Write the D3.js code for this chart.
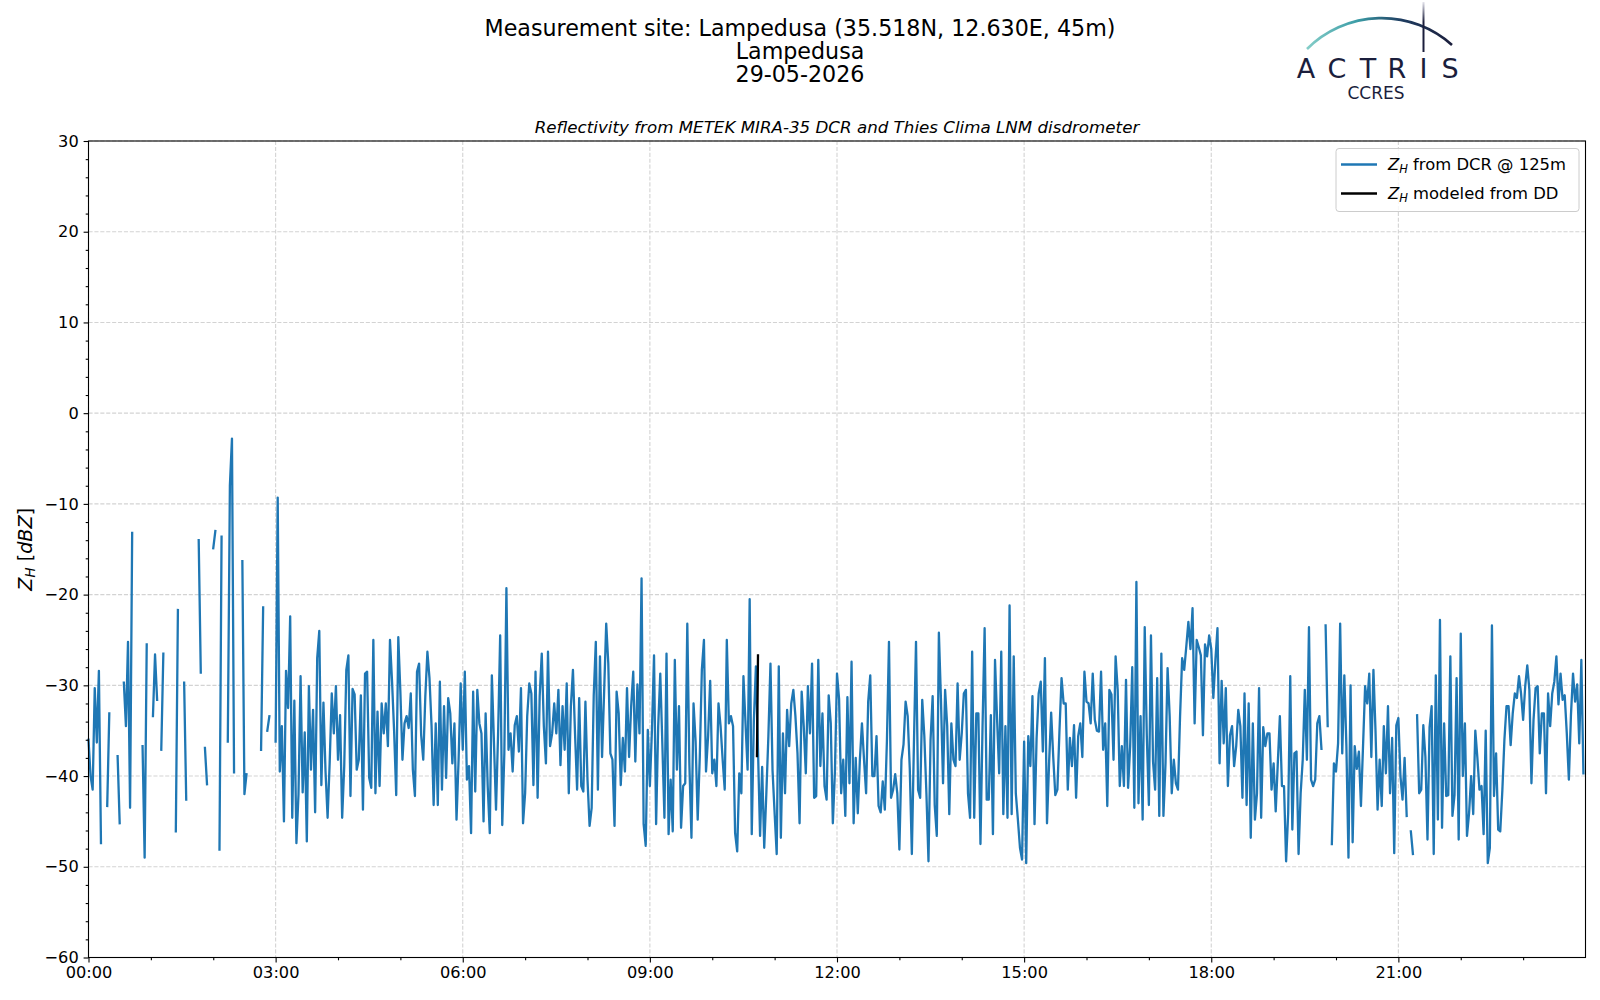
<!DOCTYPE html>
<html>
<head>
<meta charset="utf-8">
<script src="https://d3js.org/d3.v7.min.js"></script>
<style>
body { margin: 0; background: #fff; }
text { font-family: "DejaVu Sans", sans-serif; }
</style>
</head>
<body>
<svg id="chart" width="1600" height="1000"></svg>
<script>
// DCR reflectivity at 125 m, one value every 2 minutes from 00:00 (null = no data)
var stepMinutes = 2;
var dcrZh = [
  // 00:00 - 03:52
  -36, -40, -41.5, -30.3, -36.3, -28.4, -47.4, null, null, -43.3,
  -33.1, null, null, null, -37.8, -45.2, null, -29.7, -34.5, -25.2,
  -43.5, -13.2, null, null, null, null, -36.7, -49, -25.5, null,
  null, -33.4, -26.6, -31.6, null, -37.1, -26.5, null, null, null,
  null, null, -46.1, -21.7, null, null, -29.7, -42.6, null, null,
  null, null, null, -14, -28.6, null, -36.9, -40.9, null, null,
  -14.9, -13, null, -48.1, -13.6, null, null, -36.2, -8, -2.8,
  -39.6, null, null, null, -16.3, -42, -39.8, null, null, null,
  null, null, null, -37.1, -21.4, null, -35, -33.4, null, null,
  -36.2, -9.3, -39.5, -34.5, -45, -28.4, -32.5, -22.4, -44.6, -31.7,
  -47.4, -42, -29, -41.8, -35.2, -47.2, -30.1, -39.3, -32.7, -44,
  -27, -24, -41, -31.9, -39.5, -44.6, -38.5,
  // 03:54 - 07:54
  -30.9, -35.3, -30.1, -38.2, -33.3, -44.6, -38.9, -28.3, -26.7, -42.2,
  -30.4, -31, -39.3, -38.2, -31.1, -43.7, -28.7, -28.5, -40.2, -41.3,
  -25, -41.9, -32.9, -41.1, -32, -35.3, -32, -36.7, -25, -29.6,
  -35.1, -42.1, -24.7, -30.7, -38.2, -34.2, -33.4, -34.7, -30.9, -39.3,
  -42.2, -28.5, -27.6, -35.5, -38.2, -31.2, -26.3, -29.2, -34.5, -43.2,
  -34.2, -43.2, -29.6, -41.5, -32.3, -40.2, -31.4, -33.1, -38.6, -34.2,
  -44.8, -38.2, -29.8, -37.1, -28.5, -40.4, -38.9, -46.3, -30.7, -41.7,
  -30.5, -34.2, -35.3, -45, -33.1, -41.1, -46.3, -28.9, -36.2, -43.7,
  -35.3, -24.5, -45.4, -37.5, -19.3, -37.1, -35.3, -39.5, -34.4, -33.4,
  -37.3, -30.3, -45.2, -41.9, -33.4, -29.8, -30.9, -41, -28.5, -42.4,
  -31.2, -26.5, -34.5, -38.6, -26.3, -36.7, -35.3, -32, -35.3, -30.5,
  -38.8, -32.3, -37.1, -29.8, -41.9, -32.3, -28.3, -35.3, -41.5, -31.4,
  -41.1,
  // 07:56 - 11:58
  -41.7, -31.8, -40.4, -45.5, -43.5, -31.1, -25.2, -41.5, -26.8, -37.9,
  -30.7, -23.2, -27.6, -37.5, -38.2, -45.5, -30.7, -33.1, -41, -35.8,
  -39.5, -30.3, -37.9, -32.3, -28.5, -38.4, -29.9, -35.3, -18.2, -45.3,
  -47.7, -34.9, -41.1, -34.9, -26.7, -45.3, -34.5, -28.7, -36.5, -44.6,
  -26.5, -46.4, -40.4, -46.1, -27.2, -39.3, -32.3, -45.7, -41.1, -40.8,
  -23.2, -38.7, -46.8, -32, -36.2, -44.8, -37.9, -28.3, -25, -39.5,
  -35.6, -29.5, -39.7, -38.2, -41.1, -32, -34.5, -38.2, -41.5, -25,
  -34.2, -33.4, -34.5, -46.3, -48.3, -39.7, -41.9, -29, -34.2, -39.3,
  -20.5, -46.4, -34, -27.9, -37.1, -46.6, -39, -47.9, -42, -35.6,
  -27.6, -39.4, -44.1, -48.6, -27.9, -46.8, -35.3, -41.9, -32.7, -36.7,
  -32, -30.5, -33.4, -37.5, -45.2, -30.7, -34.5, -39.7, -30.1, -35.3,
  -27.6, -42.4, -42.2, -27.2, -38.9, -33.1, -41.1, -42.6, -31.1, -34.2,
  -45.2, -39.5,
  // 12:00 - 16:00
  -28.7, -31.5, -41.9, -38.2, -44.4, -31.3, -40.8, -27.4, -45.2, -38,
  -44.1, -38.2, -34.2, -38.2, -41.9, -31.8, -28.9, -40, -40, -35.6,
  -43.3, -44, -40.6, -43.7, -36.2, -25.2, -42.4, -41.5, -39.8, -41.9,
  -48.1, -38.2, -36.5, -31.8, -33.4, -39.2, -48.6, -36.4, -25.2, -41.5,
  -42.4, -31.6, -35.6, -41.9, -49.4, -36, -31.2, -43.2, -46.6, -24.2,
  -31.6, -40.8, -30.5, -34.5, -44.2, -34.2, -38.2, -38.9, -29.8, -38.2,
  -35.3, -30.9, -30.5, -41.9, -44.6, -26.3, -44.6, -33.1, -33.1, -47.5,
  -34.5, -23.7, -42.6, -42.6, -33.3, -46.4, -27.2, -33.8, -39.7, -26.3,
  -44.2, -34.5, -44.6, -21.2, -44.2, -26.8, -41.9, -44.8, -47.9, -49.2,
  -36.2, -49.6, -35.6, -38.9, -31.2, -45.3, -35.8, -30.9, -29.6, -37.3,
  -27, -45.2, -38.6, -33, -37.9, -42.1, -41.5, -35, -29.2, -32,
  -32, -41.5, -35.8, -38.9, -34.4, -42.4, -35.6, -34.2, -37.9, -28.5,
  -31.8,
  // 16:02 - 20:04
  -32, -34.2, -28.7, -33.8, -35, -35.1, -28.5, -37.1, -34.2, -43.3,
  -30.5, -31, -38.2, -26.8, -30.5, -41.1, -36.7, -41.1, -29.4, -41.3,
  -36.7, -28, -43.5, -18.6, -43, -33.4, -44.8, -23.6, -35.5, -43.2,
  -24.5, -38.4, -41.5, -29.2, -44.4, -26.5, -44.4, -38.6, -28.1, -33.4,
  -41.9, -38.2, -40.8, -41.5, -33.4, -27, -28.3, -25.7, -23, -26,
  -21.5, -34.2, -25, -25.8, -26.7, -35.5, -25.5, -26.8, -24.5, -26,
  -31.4, -27.2, -23.7, -38.6, -29.5, -36.4, -30.3, -41.1, -35.5, -34.5,
  -38.9, -36.7, -32.7, -34.5, -42.4, -30.9, -43.2, -32, -46.8, -34.2,
  -44.8, -41.9, -30.3, -44.6, -34.6, -36.7, -35.3, -35.3, -41.5, -38.6,
  -43.9, -38.6, -33.4, -41.1, -41.1, -49.4, -44.1, -29, -45.9, -37.5,
  -37.3, -48.6, -41.9, -38.2, -30.5, -38.2, -23.6, -40.4, -41.1, -40.4,
  -34.2, -33.4, -37, null, -23.4, -34.5, null, -47.5, -38.6, -39.5,
  -36.4, -23.2,
  // 20:06 - 23:58
  -37.5, -28.9, -36.7, -49, -30, -47.3, -36.7, -39.2, -37.3, -43.3,
  -36.7, -30.1, -32, -28.7, -37.9, -28.3, -35, -43.7, -38.2, -43.3,
  -34.5, -39.7, -32.3, -41.9, -35.8, -48.5, -34.4, -33.6, -40, -42.6,
  -38, -44.4, null, -46.1, -48.6, null, -33.3, -41.9, -41.5, -34.4,
  -37.9, -47, -34.6, -32.3, -48.6, -28.9, -44.8, -22.8, -45.7, -34.2,
  -42.2, -42.1, -26.8, -44.4, -42.1, -29.2, -47, -24.3, -40, -34.2,
  -46.6, -44.1, -40, -44.2, -35, -38, -41.5, -41.1, -46.4, -35,
  -49.6, -47.9, -23.4, -42.2, -37.5, -45.9, -46.1, -41.6, -36, -32.3,
  -32.3, -36.6, -33.1, -30.9, -31.4, -29, -30.9, -33.8, -30.1, -27.8,
  -30.5, -40.8, -33.8, -30.3, -30.1, -37.5, -33.1, -33.1, -41.9, -30.9,
  -34.5, -30.9, -29.6, -26.8, -32.1, -28.7, -31.6, -31.1, -35.3, -40.4,
  -33.3, -28.7, -31.8, -29.9, -36.4, -27.2, -39.7
];

// reflectivity modelled from the disdrometer (only two valid minutes)
var ddMinutes = [643, 644];
var ddZh = [-37.8, -26.7];

var yTicks = [30, 20, 10, 0, -10, -20, -30, -40, -50, -60];
var xTickHours = [0, 3, 6, 9, 12, 15, 18, 21];

var titleLines = ["Measurement site: Lampedusa (35.518N, 12.630E, 45m)", "Lampedusa", "29-05-2026"];
var subTitle = "Reflectivity from METEK MIRA-35 DCR and Thies Clima LNM disdrometer";

var W = 1600, H = 1000;
var plotL = 88.5, plotR = 1585.5, plotT = 141, plotB = 957.5;
var tickFont = 16.2;
var legendFont = 16.4;

var day0 = Date.UTC(2026, 4, 29);
function toDate(min) { return new Date(day0 + min * 60000); }

var svg = d3.select("#chart");
svg.append("rect").attr("width", W).attr("height", H).attr("fill", "#fff");

var x = d3.scaleUtc()
  .domain([toDate(0), toDate(1440)])
  .range([plotL, plotR]);

var y = d3.scaleLinear()
  .domain([-60, 30])
  .range([plotB, plotT]);

// grid
var grid = svg.append("g");
grid.selectAll(".gx").data(xTickHours).enter().append("line")
  .attr("x1", function(d) { return x(toDate(d * 60)); })
  .attr("x2", function(d) { return x(toDate(d * 60)); })
  .attr("y1", plotT).attr("y2", plotB)
  .attr("stroke", "#d3d3d3").attr("stroke-width", 1.1).attr("stroke-dasharray", "4.1,1.8");
grid.selectAll(".gy").data(yTicks).enter().append("line")
  .attr("x1", plotL).attr("x2", plotR)
  .attr("y1", function(d) { return y(d); })
  .attr("y2", function(d) { return y(d); })
  .attr("stroke", "#d3d3d3").attr("stroke-width", 1.1).attr("stroke-dasharray", "4.1,1.8");

// series
var dcrData = dcrZh.map(function(v, i) { return { t: toDate(i * stepMinutes), v: v }; });
var ddData = ddZh.map(function(v, i) { return { t: toDate(ddMinutes[i]), v: v }; });

var line = d3.line()
  .defined(function(d) { return d.v !== null; })
  .x(function(d) { return x(d.t); })
  .y(function(d) { return y(d.v); });

svg.append("path").datum(dcrData)
  .attr("d", line)
  .attr("fill", "none").attr("stroke", "#1f77b4").attr("stroke-width", 2.3)
  .attr("stroke-linejoin", "round").attr("stroke-linecap", "square");

svg.append("path").datum(ddData)
  .attr("d", line)
  .attr("fill", "none").attr("stroke", "#000").attr("stroke-width", 2.3)
  .attr("stroke-linecap", "square");

// axes
var xAxis = d3.axisBottom(x)
  .tickValues(xTickHours.map(function(h) { return toDate(h * 60); }))
  .tickFormat(d3.utcFormat("%H:%M"))
  .tickSize(4.9).tickPadding(4.2).tickSizeOuter(0);
var gx = svg.append("g").attr("transform", "translate(0," + plotB + ")").call(xAxis);

var minorHours = d3.range(1, 24).filter(function(h) { return h % 3 !== 0; });
var gxm = svg.append("g").attr("transform", "translate(0," + plotB + ")")
  .call(d3.axisBottom(x).tickValues(minorHours.map(function(h) { return toDate(h * 60); }))
    .tickFormat("").tickSize(2.8).tickSizeOuter(0));

var yAxis = d3.axisLeft(y)
  .tickValues(yTicks)
  .tickFormat(d3.format("d"))
  .tickSize(4.9).tickPadding(4.9).tickSizeOuter(0);
var gy = svg.append("g").attr("transform", "translate(" + plotL + ",0)").call(yAxis);

var minorY = d3.range(-58, 30, 2).filter(function(v) { return v % 10 !== 0; });
var gym = svg.append("g").attr("transform", "translate(" + plotL + ",0)")
  .call(d3.axisLeft(y).tickValues(minorY).tickFormat("").tickSize(2.8).tickSizeOuter(0));

[gx, gxm, gy, gym].forEach(function(g) {
  g.select(".domain").remove();
  g.selectAll("line").attr("stroke", "#000").attr("stroke-width", 1.1);
  g.selectAll("text").attr("font-family", "DejaVu Sans").attr("font-size", tickFont).attr("fill", "#000");
});

// frame
svg.append("rect").attr("x", plotL).attr("y", plotT)
  .attr("width", plotR - plotL).attr("height", plotB - plotT)
  .attr("fill", "none").attr("stroke", "#000").attr("stroke-width", 1.1);

// y label
var yl = svg.append("text")
  .attr("transform", "translate(31.5," + ((plotT + plotB) / 2) + ") rotate(-90)")
  .attr("text-anchor", "middle").attr("font-size", 19.2);
yl.append("tspan").attr("font-style", "italic").text("Z");
yl.append("tspan").attr("font-style", "italic").attr("font-size", 13.4).attr("dy", 3.2).text("H");
yl.append("tspan").attr("dy", -3.2).text(" [");
yl.append("tspan").attr("font-style", "italic").text("dBZ");
yl.append("tspan").text("]");

// titles
svg.selectAll(".title").data(titleLines).enter().append("text")
  .attr("x", 800)
  .attr("y", function(d, i) { return 36 + i * 23; })
  .attr("text-anchor", "middle").attr("font-size", 22.2).attr("fill", "#000")
  .text(function(d) { return d; });

svg.append("text").attr("x", (plotL + plotR) / 2).attr("y", 132.5)
  .attr("text-anchor", "middle").attr("font-size", 16.7).attr("font-style", "italic")
  .text(subTitle);

// legend
var lg = svg.append("g");
lg.append("rect").attr("x", 1336).attr("y", 148.5).attr("width", 243).attr("height", 63)
  .attr("rx", 3).attr("fill", "#fff").attr("fill-opacity", 0.8)
  .attr("stroke", "#cccccc").attr("stroke-width", 1);
var legendItems = [
  { color: "#1f77b4", rest: " from DCR @ 125m" },
  { color: "#000", rest: " modeled from DD" }
];
legendItems.forEach(function(d, i) {
  var ly = 164.5 + i * 29;
  lg.append("line").attr("x1", 1341).attr("x2", 1377).attr("y1", ly).attr("y2", ly)
    .attr("stroke", d.color).attr("stroke-width", 2.3);
  var t = lg.append("text").attr("x", 1388).attr("y", ly + 5.8).attr("font-size", legendFont);
  t.append("tspan").attr("font-style", "italic").text("Z");
  t.append("tspan").attr("font-style", "italic").attr("font-size", 11.5).attr("dy", 3).text("H");
  t.append("tspan").attr("dy", -3).text(d.rest);
});

// ACTRIS / CCRES logo
var defs = svg.append("defs");
var arcGrad = defs.append("linearGradient").attr("id", "arcGrad")
  .attr("gradientUnits", "userSpaceOnUse").attr("x1", 1307).attr("x2", 1452).attr("y1", 0).attr("y2", 0);
arcGrad.append("stop").attr("offset", 0).attr("stop-color", "#84cdc8");
arcGrad.append("stop").attr("offset", 0.35).attr("stop-color", "#3b9ca6");
arcGrad.append("stop").attr("offset", 0.65).attr("stop-color", "#1f3d61");
arcGrad.append("stop").attr("offset", 1).attr("stop-color", "#1b1e3c");
var barGrad = defs.append("linearGradient").attr("id", "barGrad")
  .attr("gradientUnits", "userSpaceOnUse").attr("x1", 0).attr("x2", 0).attr("y1", 2).attr("y2", 52);
barGrad.append("stop").attr("offset", 0).attr("stop-color", "#e4e4ec");
barGrad.append("stop").attr("offset", 0.4).attr("stop-color", "#1b1e3c");
barGrad.append("stop").attr("offset", 1).attr("stop-color", "#1b1e3c");

var logo = svg.append("g");
logo.append("path").attr("d", "M1307,49 A105.5,105.5 0 0 1 1452,45")
  .attr("fill", "none").attr("stroke", "url(#arcGrad)").attr("stroke-width", 2.6);
logo.append("line").attr("x1", 1423.5).attr("x2", 1423.5).attr("y1", 2).attr("y2", 52)
  .attr("stroke", "url(#barGrad)").attr("stroke-width", 2);
var letters = ["A", "C", "T", "R", "I", "S"];
var letterX = [1306, 1337, 1368, 1397, 1423.5, 1450];
logo.selectAll(".ltr").data(letters).enter().append("text")
  .attr("x", function(d, i) { return letterX[i]; })
  .attr("y", 77.5).attr("text-anchor", "middle")
  .attr("font-family", "Lato").attr("font-size", 27).attr("fill", "#1b1e3c")
  .text(function(d) { return d; });
logo.append("text").attr("x", 1376).attr("y", 98.5).attr("text-anchor", "middle")
  .attr("font-family", "Lato").attr("font-size", 17).attr("fill", "#1b1e3c")
  .text("CCRES");
</script>
</body>
</html>
